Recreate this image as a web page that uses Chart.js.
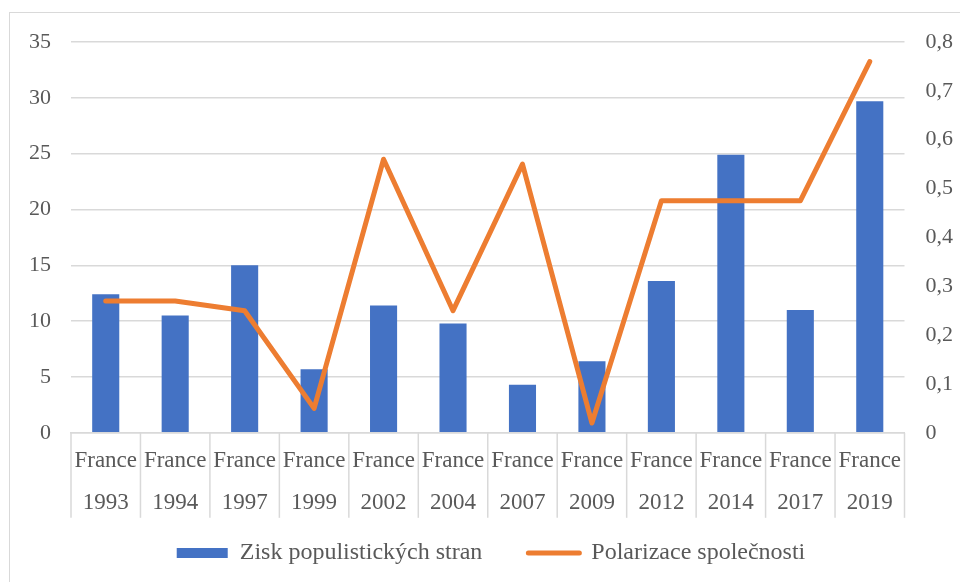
<!DOCTYPE html>
<html>
<head>
<meta charset="utf-8">
<script src="https://cdn.jsdelivr.net/npm/chart.js@4"></script>
<style>
  body { margin: 0; background: #fff; }
  #wrap { position: relative; width: 960px; height: 582px; overflow: hidden; }
  #frame { position: absolute; left: 9px; top: 12px; width: 960px; height: 600px; border: 1px solid #d9d9d9; }
  canvas { position: absolute; left: 0; top: 0; }
</style>
</head>
<body>
<div id="wrap">
  <div id="frame"></div>
  <canvas id="chart" width="960" height="582"></canvas>
</div>
<script>
const countries = ['France', 'France', 'France', 'France', 'France', 'France', 'France', 'France', 'France', 'France', 'France', 'France'];
const years = ['1993', '1994', '1997', '1999', '2002', '2004', '2007', '2009', '2012', '2014', '2017', '2019'];
const populistGain = [12.4, 10.5, 15.0, 5.7, 11.4, 9.8, 4.3, 6.4, 13.6, 24.9, 11.0, 29.7];
const polarization = [0.27, 0.27, 0.25, 0.05, 0.56, 0.25, 0.55, 0.02, 0.475, 0.475, 0.475, 0.76];

const labels = years.map((y, i) => [countries[i], y]);
const textColor = '#595959';
const gridColor = '#d9d9d9';
const serif = '"Liberation Serif", "Times New Roman", serif';
const font = { family: serif, size: 22 };

// vertical separators between the category labels, below the plot
const separators = {
  id: 'separators',
  afterDraw(chart) {
    const xs = chart.scales.x;
    const n = xs.ticks.length;
    const c = chart.ctx;
    const step = n > 1 ? xs.getPixelForTick(1) - xs.getPixelForTick(0) : xs.width;
    c.save();
    c.strokeStyle = gridColor;
    c.lineWidth = 1.5;
    for (let i = 0; i <= n; i++) {
      const px = xs.getPixelForTick(0) - step / 2 + i * step;
      c.beginPath();
      c.moveTo(px, xs.top);
      c.lineTo(px, xs.top + 85);
      c.stroke();
    }
    c.restore();
  },
};

// y axes reserve the tick padding twice; drop the extra
const trimAxis = (scale) => {
  scale.width -= scale.options.ticks.padding;
};

const ctx = document.getElementById('chart').getContext('2d');
new Chart(ctx, {
  type: 'bar',
  data: {
    labels: labels,
    datasets: [
      {
        type: 'bar',
        label: 'Zisk populistických stran',
        data: populistGain,
        backgroundColor: '#4472c4',
        barPercentage: 0.39,
        categoryPercentage: 1,
        yAxisID: 'y',
        order: 2,
      },
      {
        type: 'line',
        label: 'Polarizace společnosti',
        data: polarization,
        borderColor: '#ed7d31',
        backgroundColor: '#ed7d31',
        borderWidth: 5,
        borderCapStyle: 'round',
        borderJoinStyle: 'round',
        pointRadius: 0,
        tension: 0,
        yAxisID: 'y1',
        order: 1,
      },
    ],
  },
  options: {
    responsive: false,
    animation: false,
    layout: { padding: { left: 29, right: 7, top: 42, bottom: 7 } },
    plugins: {
      tooltip: { enabled: false },
      legend: {
        position: 'bottom',
        labels: {
          color: textColor,
          font: { family: serif, size: 24 },
          usePointStyle: true,
          pointStyleWidth: 51,
          boxHeight: 10,
          padding: 10,
          sort: (a, b) => a.datasetIndex - b.datasetIndex,
          generateLabels: (chart) => {
            const items = Chart.defaults.plugins.legend.labels.generateLabels(chart);
            items.forEach((it) => {
              if (it.datasetIndex === 0) {
                it.pointStyle = 'rect';
                it.lineWidth = 0;
                it.text = it.text + '\u2003\u2002';
              } else {
                it.pointStyle = 'line';
                it.lineWidth = 5;
                it.lineCap = 'round';
              }
            });
            return items;
          },
        },
      },
    },
    scales: {
      x: {
        offset: true,
        grid: { display: false, drawTicks: false },
        border: { color: gridColor, width: 1.5 },
        ticks: {
          color: textColor,
          font: { family: serif, size: 23, lineHeight: 1.83 },
          padding: 7,
          maxRotation: 0,
          autoSkip: false,
        },
      },
      y: {
        position: 'left',
        min: 0,
        max: 35,
        afterFit: trimAxis,
        grid: { color: gridColor, lineWidth: 1.5, drawTicks: false },
        border: { display: false },
        ticks: { stepSize: 5, color: textColor, font: font, padding: 20 },
      },
      y1: {
        position: 'right',
        min: 0,
        max: 0.8,
        afterFit: trimAxis,
        grid: { drawOnChartArea: false, drawTicks: false },
        border: { display: false },
        ticks: {
          stepSize: 0.1,
          color: textColor,
          font: font,
          padding: 21,
          callback: (v) => (v === 0 ? '0' : v.toFixed(1).replace('.', ',')),
        },
      },
    },
  },
  plugins: [separators],
});
</script>
</body>
</html>
